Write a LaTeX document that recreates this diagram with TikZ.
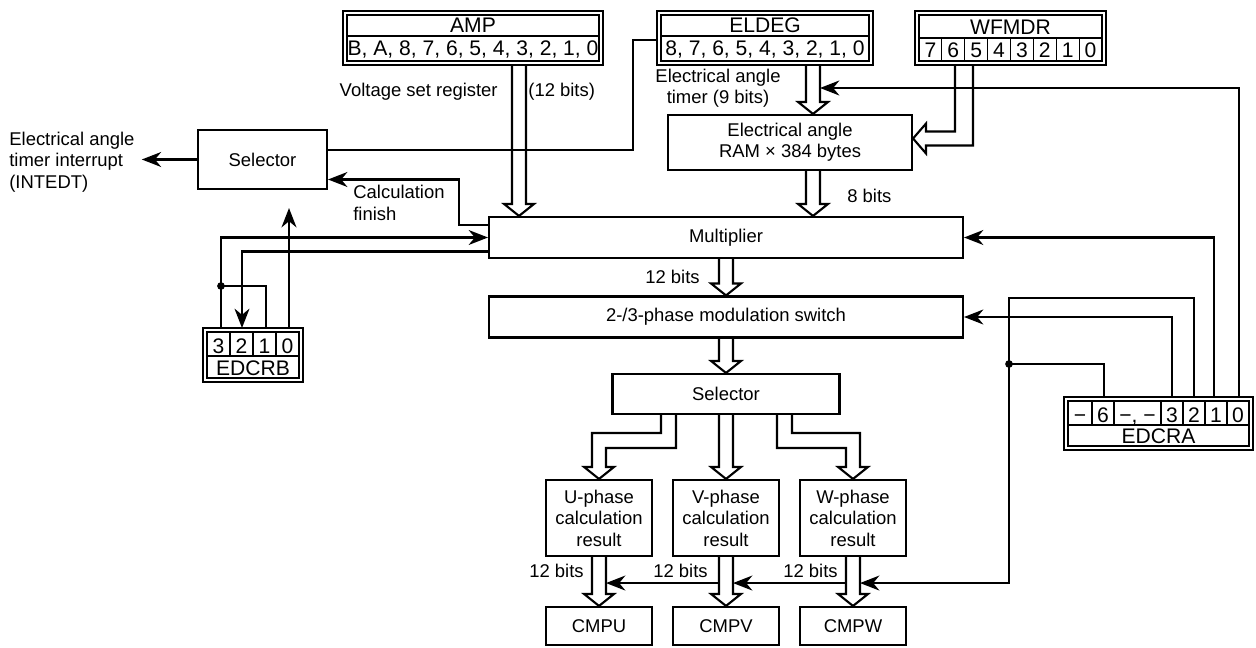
\documentclass[tikz,border=0pt]{standalone}
\usepackage{fontspec}
\setmainfont{Liberation Sans}
\usepackage{tikz}
\usetikzlibrary{arrows.meta, calc}
\newcommand{\lbl}{\fontsize{10.5}{12.2}\selectfont}
\newcommand{\regf}{\fontsize{12}{14}\selectfont}
\newcommand{\busdown}[2]{%
  \draw[bus] ($(#1)+(-7,0)$) -- ($(#2)+(-7,-12)$) -- ($(#2)+(-15,-12)$) -- (#2)
    -- ($(#2)+(15,-12)$) -- ($(#2)+(7,-12)$) -- ($(#1)+(7,0)$);}
\tikzset{
  blk/.style={draw, line width=1.2pt, inner sep=0pt, align=center, font=\lbl},
  wire/.style={line width=1.2pt},
  sig/.style={wire, -{Stealth[length=11pt, width=8.5pt, inset=3.5pt]}},
  bus/.style={line width=1.2pt},
  reg/.style={line width=0.6pt},
  txt/.style={font=\lbl, inner sep=0pt},
  bit/.style={font=\regf, inner sep=0pt, anchor=base},
}

\begin{document}
\begin{tikzpicture}[x=0.02cm, y=-0.02cm]
\useasboundingbox (0,0) rectangle (1256,648);

\draw[reg] (343,11) rectangle (603,65) (347,15) rectangle (599,61) (347,36) -- (599,36);
\node[bit] at (473,33) {AMP};
\node[bit] at (473,56) {B, A, 8, 7, 6, 5, 4, 3, 2, 1, 0};

\draw[reg] (657,11) rectangle (873,65) (661,15) rectangle (869,61) (661,36) -- (869,36);
\node[bit] at (765,33) {ELDEG};
\node[bit] at (765,56) {8, 7, 6, 5, 4, 3, 2, 1, 0};

\draw[reg] (915,11) rectangle (1106,65) (919,15) rectangle (1102,61) (919,38) -- (1102,38);
\node[bit] at (1010.5,35) {WFMDR};
\foreach \b [count=\i from 0] in {7,6,5,4,3,2,1,0}
  \node[bit] at (930.4+\i*22.875,58) {\b};
\foreach \i in {1,...,7}
  \draw[reg] (919+\i*22.875,38) -- (919+\i*22.875,61);

\draw[reg] (203,328) rectangle (303,382) (207,332) rectangle (299,378) (207,356) -- (299,356);
\foreach \b [count=\i from 0] in {3,2,1,0}
  \node[bit] at (218.5+\i*23,353) {\b};
\foreach \i in {1,2,3}
  \draw[reg] (207+\i*23,332) -- (207+\i*23,356);
\node[bit] at (253,375) {EDCRB};

\draw[reg] (1064,397) rectangle (1253,450) (1068,401) rectangle (1249,446) (1068,425) -- (1249,425);
\foreach \x in {1092,1114,1161,1183,1205,1227}
  \draw[reg] (\x,401) -- (\x,425);
\foreach \x/\b in {1080/−, 1103/6, 1137.5/{−, −}, 1172/3, 1194/2, 1216/1, 1238/0}
  \node[bit] at (\x,422) {\b};
\node[bit] at (1158.5,443) {EDCRA};

\coordinate (amp out) at (519,65);
\coordinate (eldeg out) at (813,65);
\coordinate (eldeg tap) at (657,40);
\coordinate (wfm b6) at (955,65);
\coordinate (wfm b5) at (973,65);
\coordinate (edcrb b3) at (221,328);
\coordinate (edcrb b2) at (242,328);
\coordinate (edcrb b1) at (266,328);
\coordinate (edcrb b0) at (289,328);
\coordinate (edcra b6) at (1104,397);
\coordinate (edcra b3) at (1172,397);
\coordinate (edcra b2) at (1194,397);
\coordinate (edcra b1) at (1214,397);
\coordinate (edcra b0) at (1239,397);

\node[blk, minimum width=2.58cm, minimum height=1.18cm] (sel1) at (262.5,159.5) {Selector};
\node[blk, minimum width=4.88cm, minimum height=1.1cm] (ram) at (790,142.5) {Electrical angle\\RAM × 384 bytes};
\node[blk, minimum width=9.48cm, minimum height=0.82cm] (mult) at (726,237.5) {Multiplier};
\node[blk, minimum width=9.48cm, minimum height=0.82cm] (sw) at (726,317) {2-/3-phase modulation switch};
\node[blk, minimum width=4.54cm, minimum height=0.8cm] (sel2) at (726,394) {Selector};
\foreach \n/\p/\x in {ures/U/599, vres/V/726, wres/W/853}
  \node[blk, minimum width=2.12cm, minimum height=1.52cm] (\n) at (\x,518) {\p-phase\\calculation\\result};
\foreach \n/\p/\x in {cmpu/U/599, cmpv/V/726, cmpw/W/853}
  \node[blk, minimum width=2.12cm, minimum height=0.76cm] (\n) at (\x,626) {CMP\p};

\node[txt, anchor=base east] at (498,97) {Voltage set register};
\node[txt, anchor=base west] at (528,97) {(12 bits)};
\node[txt, align=center] at (718,88) {Electrical angle\\timer (9 bits)};
\node[txt, anchor=west, align=left] (intr) at (9,162) {Electrical angle\\timer interrupt\\(INTEDT)};
\node[txt, anchor=west, align=left] at (353,203) {Calculation\\finish};
\node[txt, anchor=base west] at (847,203) {8 bits};
\node[txt, anchor=base west] at (645,283) {12 bits};
\node[txt, anchor=base west] at (529,577) {12 bits};
\node[txt, anchor=base west] at (653,577) {12 bits};
\node[txt, anchor=base west] at (783,577) {12 bits};

\busdown{amp out}{amp out |- mult.north}
\busdown{eldeg out}{eldeg out |- ram.north}
\busdown{ram.south -| eldeg out}{eldeg out |- mult.north}
\busdown{mult.south}{sw.north}
\busdown{sw.south}{sel2.north}
\busdown{sel2.south -| vres.north}{vres.north}
\foreach \a/\b in {ures/cmpu, vres/cmpv, wres/cmpw}
  {\busdown{\a.south}{\b.north}}
\draw[bus] ($(sel2.south)+(-65,0)$) |- ($(ures.north)+(-7,-46)$) -- ($(ures.north)+(-7,-12)$)
  -- ($(ures.north)+(-15,-12)$) -- (ures.north) -- ($(ures.north)+(15,-12)$)
  -- ($(ures.north)+(7,-12)$) -- ($(ures.north)+(7,-31)$) -| ($(sel2.south)+(-50,0)$);
\draw[bus] ($(sel2.south)+(51,0)$) |- ($(wres.north)+(-7,-31)$) -- ($(wres.north)+(-7,-12)$)
  -- ($(wres.north)+(-15,-12)$) -- (wres.north) -- ($(wres.north)+(15,-12)$)
  -- ($(wres.north)+(7,-12)$) -- ($(wres.north)+(7,-46)$) -| ($(sel2.south)+(66,0)$);
\coordinate (ram in) at ($(ram.east)+(0,-4)$);
\draw[bus] (wfm b6) |- ($(ram in)+(13,-7)$) -- ($(ram in)+(13,-15)$) -- (ram in)
  -- ($(ram in)+(13,15)$) -- ($(ram in)+(13,7)$) -| (wfm b5);

\coordinate (bend) at (633,150);
\draw[wire] (eldeg tap) -| (bend) -- (bend -| sel1.east);
\draw[sig] (sel1.west) -- ($(sel1.west -| intr.east)+(7,0)$);
\draw[sig] ($(mult.west)+(0,-12.5)$) -| ($(sel1.east)+(131,20)$) -- ($(sel1.east)+(0,20)$);

\draw[sig] (edcrb b3) |- (mult.west);
\coordinate (edcrb jn) at (221,286);
\fill (edcrb jn) circle (2.2pt);
\draw[wire] (edcrb jn) -| (edcrb b1);
\draw[sig] ($(mult.west)+(0,14)$) -| (edcrb b2);
\draw[sig] (edcrb b0) -- ($(edcrb b0 |- sel1.south)+(0,18)$);

\draw[sig] (edcra b0) |- ($(eldeg out)+(7,23)$);
\draw[sig] (edcra b1) |- (mult.east);
\draw[sig] (edcra b3) |- (sw.east);
\coordinate (edcra top) at (1009,298);
\coordinate (edcra jn) at (1009,364);
\draw[sig] (edcra b2) |- (edcra top) -- ($(edcra top |- wres.south)+(0,26)$) -- ($(wres.south)+(7,26)$);
\draw[wire] (edcra b6) |- (edcra jn);
\fill (edcra jn) circle (2.2pt);
\draw[sig] ($(wres.south)+(-7,26)$) -- ($(vres.south)+(7,26)$);
\draw[sig] ($(vres.south)+(-7,26)$) -- ($(ures.south)+(7,26)$);
\end{tikzpicture}
\end{document}
